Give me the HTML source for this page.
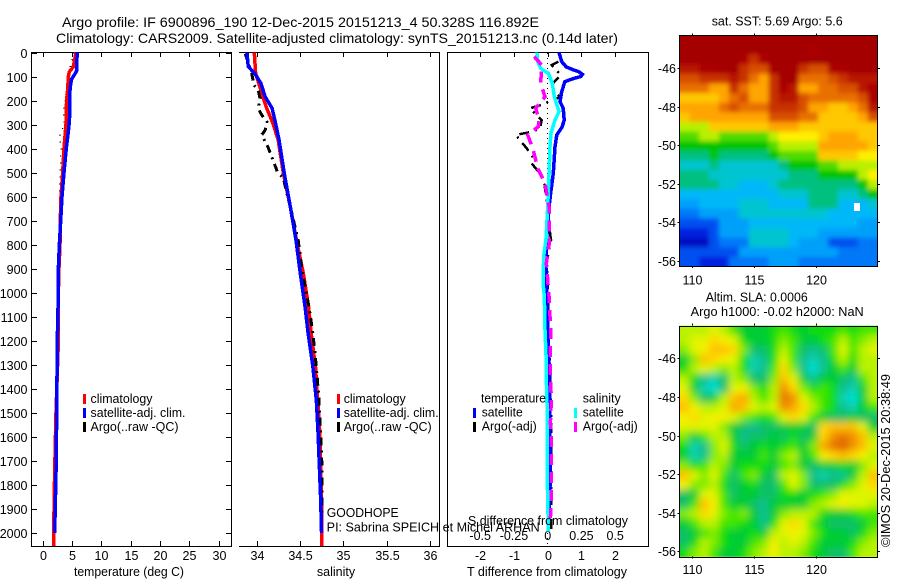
<!DOCTYPE html>
<html lang="en">
<head>
<meta charset="utf-8">
<title>Argo profile</title>
<style>
html,body{margin:0;padding:0;background:#fff;}
svg{display:block;}
text{font-family:"Liberation Sans",sans-serif;font-size:12.5px;fill:#000;}
</style>
</head>
<body>
<svg id="fig" xmlns="http://www.w3.org/2000/svg" width="900" height="580" viewBox="0 0 900 580">
<defs>
<clipPath id="clipSST"><rect x="679.3" y="35.3" width="198.4" height="230.7"/></clipPath>
<clipPath id="clipSLA"><rect x="679.3" y="325.7" width="198.4" height="231"/></clipPath>
<clipPath id="clipTemp"><rect x="32" y="52" width="199" height="494"/></clipPath>
<clipPath id="clipSal"><rect x="239" y="52" width="200" height="494"/></clipPath>
<clipPath id="clipDiff"><rect x="448" y="52" width="200" height="494"/></clipPath>
<filter id="blurSST" x="-5%" y="-5%" width="110%" height="110%"><feGaussianBlur stdDeviation="2.5"/></filter>
<filter id="blurSLA" x="-5%" y="-5%" width="110%" height="110%"><feGaussianBlur stdDeviation="4"/></filter>
</defs>
<text x="62" y="27" style="font-size:14px" textLength="477" lengthAdjust="spacingAndGlyphs">Argo profile: IF 6900896_190 12-Dec-2015 20151213_4 50.328S 116.892E</text>
<text x="56" y="43" style="font-size:14px" textLength="562" lengthAdjust="spacingAndGlyphs">Climatology: CARS2009. Satellite-adjusted climatology: synTS_20151213.nc (0.14d later)</text>

<g id="panelTemp"></g>
<g id="panelSal"></g>
<g id="panelDiff"></g>
<g id="mapSST"></g>
<g id="mapSLA"></g>

<text x="129" y="576" text-anchor="middle" textLength="110" lengthAdjust="spacingAndGlyphs">temperature (deg C)</text>
<text x="336" y="576" text-anchor="middle">salinity</text>
<text x="547" y="576" text-anchor="middle" textLength="160" lengthAdjust="spacingAndGlyphs">T difference from climatology</text>
<text x="548" y="525" text-anchor="middle" textLength="160" lengthAdjust="spacingAndGlyphs">S difference from climatology</text>

<g>
<rect x="83" y="394" width="3" height="10" fill="#ff0000"/>
<text x="90.5" y="403" textLength="62" lengthAdjust="spacingAndGlyphs">climatology</text>
<rect x="83" y="408" width="3" height="10" fill="#0000ff"/>
<text x="90.5" y="417" textLength="95" lengthAdjust="spacingAndGlyphs">satellite-adj. clim.</text>
<rect x="83" y="422" width="3" height="10" fill="#000"/>
<text x="90.5" y="431" textLength="88" lengthAdjust="spacingAndGlyphs">Argo(..raw -QC)</text>
</g>
<g>
<rect x="337" y="394" width="3" height="10" fill="#ff0000"/>
<text x="343.7" y="403" textLength="62" lengthAdjust="spacingAndGlyphs">climatology</text>
<rect x="337" y="408" width="3" height="10" fill="#0000ff"/>
<text x="343.7" y="417" textLength="95" lengthAdjust="spacingAndGlyphs">satellite-adj. clim.</text>
<rect x="337" y="422" width="3" height="10" fill="#000"/>
<text x="343.7" y="431" textLength="88" lengthAdjust="spacingAndGlyphs">Argo(..raw -QC)</text>
</g>
<g>
<text x="481" y="402.5" textLength="65" lengthAdjust="spacingAndGlyphs">temperature</text>
<rect x="473" y="408" width="3" height="10" fill="#0000ff"/>
<text x="481.7" y="416.5" textLength="41" lengthAdjust="spacingAndGlyphs">satellite</text>
<rect x="473" y="422" width="3" height="10" fill="#000"/>
<text x="481.7" y="430.5" textLength="55" lengthAdjust="spacingAndGlyphs">Argo(-adj)</text>
<text x="582.7" y="402.5" textLength="38" lengthAdjust="spacingAndGlyphs">salinity</text>
<rect x="574" y="408" width="3" height="10" fill="#00ffff"/>
<text x="582.7" y="416.5" textLength="41" lengthAdjust="spacingAndGlyphs">satellite</text>
<rect x="574" y="422" width="3" height="10" fill="#ff00ff"/>
<text x="582.7" y="430.5" textLength="55" lengthAdjust="spacingAndGlyphs">Argo(-adj)</text>
</g>
<text x="326.7" y="517" textLength="72" lengthAdjust="spacingAndGlyphs">GOODHOPE</text>
<text x="326.7" y="531.5" textLength="213" lengthAdjust="spacingAndGlyphs">PI: Sabrina SPEICH et Michel ARHAN</text>
<text x="711.7" y="25.5" textLength="131" lengthAdjust="spacingAndGlyphs">sat. SST: 5.69 Argo: 5.6</text>
<text x="705.7" y="301.5" textLength="102" lengthAdjust="spacingAndGlyphs">Altim. SLA: 0.0006</text>
<text x="690.7" y="316" textLength="173" lengthAdjust="spacingAndGlyphs">Argo h1000: -0.02 h2000: NaN</text>
<text transform="translate(890,547) rotate(-90)" textLength="173" lengthAdjust="spacingAndGlyphs">©IMOS 20-Dec-2015 20:38:49</text>
</svg>

<script>
// ---- Profile data ----
var depthTicks = [0,100,200,300,400,500,600,700,800,900,1000,1100,1200,1300,1400,1500,1600,1700,1800,1900,2000];
var tempTicks = [0,5,10,15,20,25,30];
var salTicks = [34,34.5,35,35.5,36];
var salTickLabels = ["34","34.5","35","35.5","36"];
var diffTTicks = [-2,-1,0,1,2];
var diffSTicks = [-0.5,-0.25,0,0.25,0.5];
var diffSTickLabels = ["-0.5","-0.25","0","0.25","0.5"];

var tempClimDepth = [0,60,80,100,150,200,300,400,500,600,700,800,900,1000,1200,1500,1750,2000,2055];
var tempClimValue = [5.7,5.25,4.57,4.4,4.3,4.1,4.0,3.66,3.44,3.15,3.03,2.98,2.8,2.7,2.7,2.3,2.07,1.9,1.9];
var tempSatDepth = [0,50,75,90,110,130,170,280,330,400,500,600,700,800,900,1000,1200,1500,1750,2000];
var tempSatValue = [5.93,5.8,5.85,5.5,4.97,4.8,4.63,4.6,4.4,4.05,3.66,3.32,3.1,2.87,2.7,2.7,2.52,2.42,2.3,2.07];
var tempArgoDepth = [0,100,200,240,300,350,400,450,500,600,700,800,900,1000];
var tempArgoValue = [5.4,4.3,3.9,3.6,3.7,2.9,3.2,3.1,3.0,2.95,3.0,3.0,2.85,2.7];

var salClimDepth = [0,87,156,225,295,364,503,642,780,919,1058,1169,1308,1585,1863,2055];
var salClimValue = [33.975,33.99,34.05,34.11,34.19,34.25,34.31,34.39,34.46,34.54,34.6,34.63,34.68,34.73,34.75,34.75];
var salSatDepth = [0,59,87,128,184,232,295,364,503,642,780,919,1058,1169,1308,1447,1585,1724,1863,2000];
var salSatValue = [33.89,33.905,33.98,34.05,34.1,34.18,34.22,34.26,34.32,34.39,34.455,34.505,34.56,34.595,34.65,34.69,34.71,34.725,34.74,34.75];
var salArgoDepth = [5,87,135,156,191,232,260,288,323,343,392,447,496,523,586,642,780,919,1058,1169,1308,1447,1585,1724,1863,1975];
var salArgoValue = [33.87,33.945,33.97,34.02,34.04,34.02,34.06,34.12,34.1,34.06,34.13,34.19,34.24,34.31,34.35,34.39,34.48,34.53,34.605,34.65,34.69,34.72,34.74,34.755,34.755,34.75];

var diffTSatDepth = [0,38,60,70,80,91,100,107,121,163,205,232,281,309,343,392,503,572,642,773,877,947,1155,1294,1432,1660,1800,1966];
var diffTSatValue = [0.335,0.415,0.55,0.72,0.92,1.03,0.98,0.8,0.51,0.415,0.365,0.46,0.49,0.43,0.27,0.217,0.166,0.1,0.04,-0.03,-0.06,-0.03,0,0.04,0.06,0.07,0.07,0.02];
var diffSSatDepth = [0,38,66,87,128,184,246,281,336,392,503,642,773,850,905,975,1016,1155,1265,1362,1500,1780,1994];
var diffSSatValue = [-0.08,-0.074,-0.052,0.005,0.034,0.049,0.084,0.054,0.024,0.017,0.01,0,-0.012,-0.03,-0.032,-0.032,-0.025,-0.02,-0.012,-0.01,-0.003,-0.003,0.005];
var diffSArgoDepth = [17,52,128,184,232,281,309,343,406,482,544,642,753,793,877,947,1016,1086,1141,1210,1280,1350,1447,1540,1604,1680,1750,1880,1938];
var diffSArgoValue = [-0.1,-0.044,-0.052,-0.02,-0.089,-0.064,-0.07,-0.148,-0.107,-0.074,-0.02,0.01,0.01,0.012,-0.01,0,0.01,0.015,0.024,0.02,0.02,0.02,0.027,0.02,0.027,0.027,0.027,0.025,0.02];
var diffTArgoDepth = [38,52,80,94,107,141,186,205,218,232,281,316,330,343,371,399,434,462,503,544,586,642,753,780,835,877,1016,1155,1294,1500,1800,2000];
var diffTArgoValue = [0.315,0.12,0.3,0.39,0.3,0.07,0.365,0.02,-0.18,-0.525,-0.18,-0.23,-0.475,-0.95,-0.79,-0.62,-0.457,-0.475,-0.23,-0.1,-0.06,0,0.07,0.1,0.02,-0.03,0.02,0.02,0.06,0.1,0.1,0.1];

// ---- Map data: rows north to south, 20 columns west to east (colour level) ----
var sstLevels = [
[20,20,20,20,20,20,20,20,20,20,20,20,20,20,20,20,20,20,20,20],
[20,20,20,20,20,20,20,20,20,20,20,20,20,19,20,20,20,20,20,20],
[20,20,20,20,20,20,19,17,19,20,20,20,20,20,20,20,20,20,20,20],
[18,18,19,19,20,20,17,16,16,20,20,20,17,16,16,19,19,20,20,20],
[16,16,17,17,17,18,17,15,14,17,20,20,15,15,15,16,17,18,18,18],
[15,15,15,14,14,17,15,14,14,17,19,18,14,14,15,15,16,16,18,19],
[13,13,13,13,14,15,16,14,14,17,18,18,16,15,15,15,15,15,16,19],
[14,14,14,14,15,16,15,15,15,17,17,17,16,14,14,13,13,14,15,18],
[13,14,14,14,14,14,14,14,14,16,16,16,15,15,13,13,13,13,14,16],
[11,11,11,13,13,13,13,13,13,14,14,14,13,13,13,13,13,13,13,13],
[10,10,11,11,10,10,10,10,10,11,12,12,12,12,13,14,14,14,13,13],
[9,9,9,9,9,9,9,9,9,10,11,11,11,11,14,14,14,14,14,13],
[8,8,8,9,8,8,8,8,8,9,10,10,10,10,13,13,13,13,12,12],
[7,7,7,8,7,7,7,7,7,7,8,9,9,9,10,10,11,11,11,11],
[8,8,8,7,7,7,7,7,7,7,7,8,8,8,9,9,9,9,11,12],
[8,8,8,8,7,7,6,6,6,7,8,8,8,8,8,8,8,8,9,11],
[6,6,6,6,6,6,6,6,6,6,7,7,7,8,8,8,7,7,8,9],
[5,5,6,6,6,6,7,7,7,6,6,6,6,8,8,8,6,6,6,7],
[4,4,5,5,5,5,7,7,7,7,7,7,7,7,7,6,6,6,6,6],
[3,3,3,3,5,5,5,6,6,6,6,6,6,6,6,6,6,6,5,5],
[2,2,2,3,5,5,5,7,7,7,7,6,6,6,5,5,5,5,5,5],
[1,1,1,3,4,4,4,7,7,7,7,6,5,5,5,3,3,3,4,4],
[3,3,3,3,3,3,5,5,5,5,5,5,5,5,5,5,4,4,4,4],
[3,3,2,2,2,4,4,4,4,5,5,5,4,4,4,4,4,4,4,4]
];
var slaLevels = [
[8,8,8,9,8,6,4,4,4,5,6,5,4,5,5,5,6,5,6,6],
[8,9,9,11,10,9,5,4,4,5,7,6,4,4,5,6,8,6,7,8],
[7,9,10,12,12,11,7,3,3,5,8,6,3,2,3,6,9,6,8,9],
[4,7,12,11,10,9,5,1,2,5,9,6,2,1,2,5,8,5,8,8],
[5,8,9,8,7,8,5,1,2,6,11,7,2,0,2,4,6,4,8,8],
[8,5,2,1,3,8,7,3,3,7,12,9,4,2,4,4,3,2,6,8],
[9,4,1,0,3,9,10,7,5,8,14,11,7,5,6,5,2,1,4,8],
[11,7,3,4,8,12,13,8,6,8,15,14,9,7,6,5,1,0,4,8],
[12,10,8,8,9,13,12,9,8,9,14,13,11,8,6,5,2,1,4,6],
[10,11,9,10,10,9,7,6,5,6,9,11,9,6,4,3,3,4,3,3],
[9,9,9,9,7,4,3,2,3,3,4,4,4,3,11,12,12,12,9,4],
[7,4,6,8,8,4,2,3,3,4,3,5,3,4,11,14,15,14,12,8],
[5,1,2,7,9,5,3,4,5,4,5,6,4,7,13,15,16,14,12,9],
[4,1,2,7,8,4,4,4,6,4,7,8,4,6,10,11,12,11,10,8],
[7,5,6,8,7,4,5,5,5,4,6,7,4,3,4,4,5,4,7,9],
[12,9,7,9,6,3,6,7,4,3,8,9,7,2,1,2,2,4,8,12],
[10,7,7,8,5,3,4,5,3,3,6,9,7,3,3,3,5,7,9,11],
[3,4,9,9,6,3,4,4,3,3,5,5,4,5,6,7,9,9,9,9],
[3,6,12,10,6,4,4,3,2,4,4,4,4,7,8,9,10,9,9,8],
[7,8,11,9,7,6,7,4,2,4,7,8,8,8,5,4,4,5,6,6],
[4,6,8,8,6,6,5,4,2,5,9,11,9,6,4,3,3,3,4,6],
[3,4,6,7,5,4,4,5,4,8,9,10,9,7,5,4,4,3,5,7],
[3,5,8,7,5,4,4,6,7,10,8,9,8,6,4,4,4,5,7,8],
[5,7,8,6,4,4,5,7,8,10,8,8,7,5,4,3,3,6,8,8]
];
var mapLonTicks = [110,115,120];
var mapLatTicks = [-46,-48,-50,-52,-54,-56];
var sstPalette = ["#00008c","#0008c0","#0020e0","#0050f0","#0078f8","#00a0fa","#00b8f8","#00c4d0","#00c080","#00c400","#50dc00","#b8f000","#fff000","#ffc800","#ffa400","#e87000","#d85000","#c83000","#b81400","#ac0600","#a40000"];
var slaPalette = ["#00e0d8","#08d0b0","#10c090","#10c068","#00cc34","#10dc10","#40e600","#80ec00","#b8f200","#e0f400","#f4f000","#ffd800","#ffc000","#f8a800","#f09000","#e87400","#e06000"];

// ---- Axis functions ----
function depthToY(d){return 52.5 + d*0.2403;}
function tempToX(t){return 42.5 + t*5.87;}
function salToX(s){return 256.5 + (s-34)*86.75;}
function diffTToX(t){return 547.7 + t*33.7;}
function diffSToX(s){return 547.7 + s*135;}
function lonToX(l){return 692.3 + (l-110)*12.4;}
function sstLatToY(l){return 68 + (-46-l)*19.27;}
function slaLatToY(l){return 358.3 + (-46-l)*19.3;}

var NS = "http://www.w3.org/2000/svg";
function mk(parent,tag,attrs,txt){
  var e = document.createElementNS(NS,tag);
  for(var k in attrs){e.setAttribute(k,attrs[k]);}
  if(txt!==undefined){e.textContent = txt;}
  parent.appendChild(e);
  return e;
}
function line(parent,x1,y1,x2,y2,name){
  var l = mk(parent,"line",{x1:x1,y1:y1,x2:x2,y2:y2,stroke:"#000","stroke-width":1,"shape-rendering":"crispEdges"});
  
  
  return l;
}
function label(parent,x,y,anchor,txt,name){
  var t = mk(parent,"text",{x:x,y:y,"text-anchor":anchor},txt);
  
  
  return t;
}
function series(parent,clip,depths,values,xf,color,width,dash,name){
  var d = "";
  for(var i=0;i<depths.length;i++){
    d += (i?"L":"M") + xf(values[i]).toFixed(2) + " " + depthToY(depths[i]).toFixed(2);
  }
  var a = {d:d,fill:"none",stroke:color,"stroke-width":width,"clip-path":"url(#"+clip+")","shape-rendering":"crispEdges"};
  if(dash){a["stroke-dasharray"] = dash;}
  var p = mk(parent,"path",a);
  
  
  return p;
}

// ---- Panel 1: temperature ----
var g1 = document.getElementById("panelTemp");
line(g1,31.5,52,31.5,546.5,"temperature-axis-left");
line(g1,231.5,52,231.5,546.5,"temperature-axis-right");
line(g1,31,52.5,232,52.5,"temperature-axis-top");
line(g1,31,546.5,232,546.5,"temperature-axis-bottom");
depthTicks.forEach(function(d){
  var y = Math.round(depthToY(d))+0.5;
  line(g1,32,y,37,y,"depth-tick-left");
  line(g1,226,y,231,y,"depth-tick-right");
  label(g1,27.5,y+4.5,"end",String(d),"depth-tick-label");
});
tempTicks.forEach(function(t){
  var x = Math.round(tempToX(t))+0.5;
  line(g1,x,53,x,57,"temperature-tick-top");
  line(g1,x,541,x,546,"temperature-tick-bottom");
  label(g1,x,560,"middle",String(t),"temperature-tick-label");
});
series(g1,"clipTemp",tempArgoDepth,tempArgoValue,tempToX,"#000",1.5,"1 6","temperature-argo-line");
series(g1,"clipTemp",tempClimDepth,tempClimValue,tempToX,"#ff0000",3.5,null,"temperature-climatology-line");
series(g1,"clipTemp",tempSatDepth,tempSatValue,tempToX,"#0000ff",3.5,null,"temperature-satellite-line");

// ---- Panel 2: salinity ----
var g2 = document.getElementById("panelSal");
line(g2,439.5,52,439.5,546.5,"salinity-axis-right");
line(g2,239,52.5,440,52.5,"salinity-axis-top");
line(g2,239,546.5,440,546.5,"salinity-axis-bottom");
salTicks.forEach(function(s,i){
  var x = Math.round(salToX(s))+0.5;
  line(g2,x,53,x,57,"salinity-tick-top");
  line(g2,x,541,x,546,"salinity-tick-bottom");
  label(g2,x,560,"middle",salTickLabels[i],"salinity-tick-label");
});
series(g2,"clipSal",salClimDepth,salClimValue,salToX,"#ff0000",3.5,null,"salinity-climatology-line");
series(g2,"clipSal",salArgoDepth,salArgoValue,salToX,"#000",3,"8 5 2 5","salinity-argo-line");
series(g2,"clipSal",salSatDepth,salSatValue,salToX,"#0000ff",3.5,null,"salinity-satellite-line");

// ---- Panel 3: differences ----
var g3 = document.getElementById("panelDiff");
line(g3,447.5,52,447.5,546.5,"difference-axis-left");
line(g3,648.5,52,648.5,546.5,"difference-axis-right");
line(g3,447,52.5,649,52.5,"difference-axis-top");
line(g3,447,546.5,649,546.5,"difference-axis-bottom");
diffTTicks.forEach(function(t){
  var x = Math.round(diffTToX(t))+0.5;
  line(g3,x,53,x,57,"t-difference-tick-top");
  label(g3,x,560,"middle",String(t),"t-difference-tick-label");
});
diffSTicks.forEach(function(s,i){
  label(g3,diffSToX(s),540,"middle",diffSTickLabels[i],"s-difference-tick-label");
});
var zeroLine = mk(g3,"line",{x1:diffTToX(0),y1:53,x2:diffTToX(0),y2:546,stroke:"#000","stroke-width":1,"stroke-dasharray":"1 4","shape-rendering":"crispEdges"});


series(g3,"clipDiff",diffTArgoDepth,diffTArgoValue,diffTToX,"#000",2.5,"10 6 2 6","t-difference-argo-line");
series(g3,"clipDiff",diffTSatDepth,diffTSatValue,diffTToX,"#0000ff",3.5,null,"t-difference-satellite-line");
series(g3,"clipDiff",diffSSatDepth,diffSSatValue,diffSToX,"#00ffff",3.5,null,"s-difference-satellite-line");
series(g3,"clipDiff",diffSArgoDepth,diffSArgoValue,diffSToX,"#ff00ff",3.5,"11 7","s-difference-argo-line");

// ---- Maps ----
var CELL_LON = 0.8, CELL_LAT = 0.5, LON0 = 108.95, LAT0 = -44.3;
function drawMap(root,levels,palette,latToY,clip,filter,cellName,top,bottom,baseColor,tickLabelY){
  var holder = mk(root,"g",{"clip-path":"url(#"+clip+")"});
  
  
  var base = mk(holder,"rect",{x:679.3,y:top,width:198.4,height:bottom-top,fill:baseColor});
  
  
  var cells = mk(holder,"g",{filter:"url(#"+filter+")"});
  
  
  levels.forEach(function(row,r){
    row.forEach(function(v,c){
      var x0 = lonToX(LON0 + c*CELL_LON), x1 = lonToX(LON0 + (c+1)*CELL_LON);
      var y0 = latToY(LAT0 - r*CELL_LAT), y1 = latToY(LAT0 - (r+1)*CELL_LAT);
      var px = 0, py = 0;
      if(c===0){px = 8;} 
      if(r===0){py = 8;}
      var cell = mk(cells,"rect",{x:x0-px,y:y0-py,width:x1-x0+0.6+px+(c===row.length-1?8:0),height:y1-y0+0.6+py+(r===levels.length-1?8:0),fill:palette[Math.max(0,Math.min(palette.length-1,Math.round(v)))]});
      
      
    });
  });
  var frame = mk(root,"rect",{x:679.5,y:Math.round(top)+0.5,width:198,height:Math.round(bottom-top),fill:"none",stroke:"#000","stroke-width":1,"shape-rendering":"crispEdges"});
  
  
  mapLonTicks.forEach(function(l){
    var x = Math.round(lonToX(l))+0.5;
    line(root,x,top-2,x,top,cellName+"-lon-tick-top");
    line(root,x,bottom,x,bottom+2,cellName+"-lon-tick-bottom");
    label(root,x,tickLabelY,"middle",String(l),cellName+"-lon-tick-label");
  });
  mapLatTicks.forEach(function(l){
    var y = Math.round(latToY(l))+0.5;
    line(root,677.5,y,679,y,cellName+"-lat-tick-left");
    line(root,878,y,880,y,cellName+"-lat-tick-right");
    label(root,676,y+4.5,"end",String(l),cellName+"-lat-tick-label");
  });
}
var mapA = document.getElementById("mapSST");
drawMap(mapA,sstLevels,sstPalette,sstLatToY,"clipSST","blurSST","sst-cell",35.3,266,"#0060e0",284.7);
var mapB = document.getElementById("mapSLA");
drawMap(mapB,slaLevels,slaPalette,slaLatToY,"clipSLA","blurSLA","sla-cell",325.7,556.7,"#60e000",574);
var nanPatch = mk(mapA,"rect",{x:854,y:203,width:6,height:8,fill:"#fff"});


</script>
</body>
</html>
